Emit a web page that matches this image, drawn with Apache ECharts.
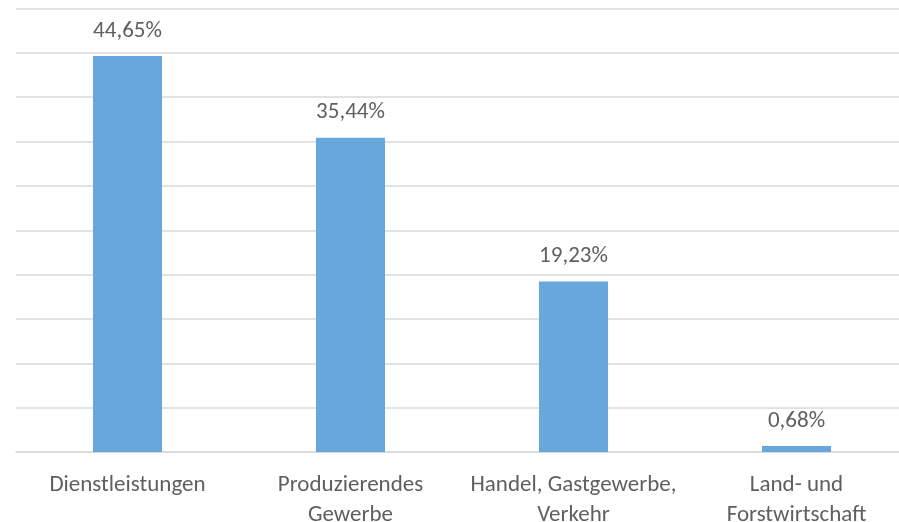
<!DOCTYPE html>
<html>
<head>
<meta charset="utf-8">
<script src="https://cdn.jsdelivr.net/npm/echarts@6/dist/echarts.min.js"></script>
<style>
html,body{margin:0;padding:0;background:#fff;}
#chart{width:899px;height:522px;}
</style>
</head>
<body>
<div id="chart"></div>
<script>
var categories = ['Dienstleistungen', 'Produzierendes\nGewerbe', 'Handel, Gastgewerbe,\nVerkehr', 'Land- und\nForstwirtschaft'];
var values = [44.65, 35.44, 19.23, 0.68];
var valueLabels = ['44,65%', '35,44%', '19,23%', '0,68%'];

var chart = echarts.init(document.getElementById('chart'));
var FONT = 'Carlito, Lato, sans-serif';
chart.setOption({
  animation: false,
  grid: { left: 16, top: 8.5, width: 892, height: 443.5, containLabel: false, outerBoundsMode: 'none' },
  xAxis: {
    type: 'category',
    data: categories,
    axisLine: { show: true, lineStyle: { color: '#d9d9d9', width: 1.5 } },
    axisTick: { show: false },
    axisLabel: { color: '#5f5f5f', fontFamily: FONT, fontSize: 23, lineHeight: 30, margin: 18, interval: 0 }
  },
  yAxis: {
    type: 'value',
    min: 0, max: 50, interval: 5,
    axisLabel: { show: false },
    axisLine: { show: false },
    axisTick: { show: false },
    splitLine: { lineStyle: { color: '#d9d9d9', width: 1.5 } }
  },
  series: [{
    type: 'bar',
    data: values,
    barWidth: 69,
    itemStyle: { color: '#67a7db' },
    label: {
      show: true,
      position: 'top',
      distance: 12,
      color: '#5f5f5f',
      fontFamily: FONT,
      fontSize: 23,
      lineHeight: 26,
      formatter: function (p) { return valueLabels[p.dataIndex]; }
    }
  }]
});
</script>
</body>
</html>
